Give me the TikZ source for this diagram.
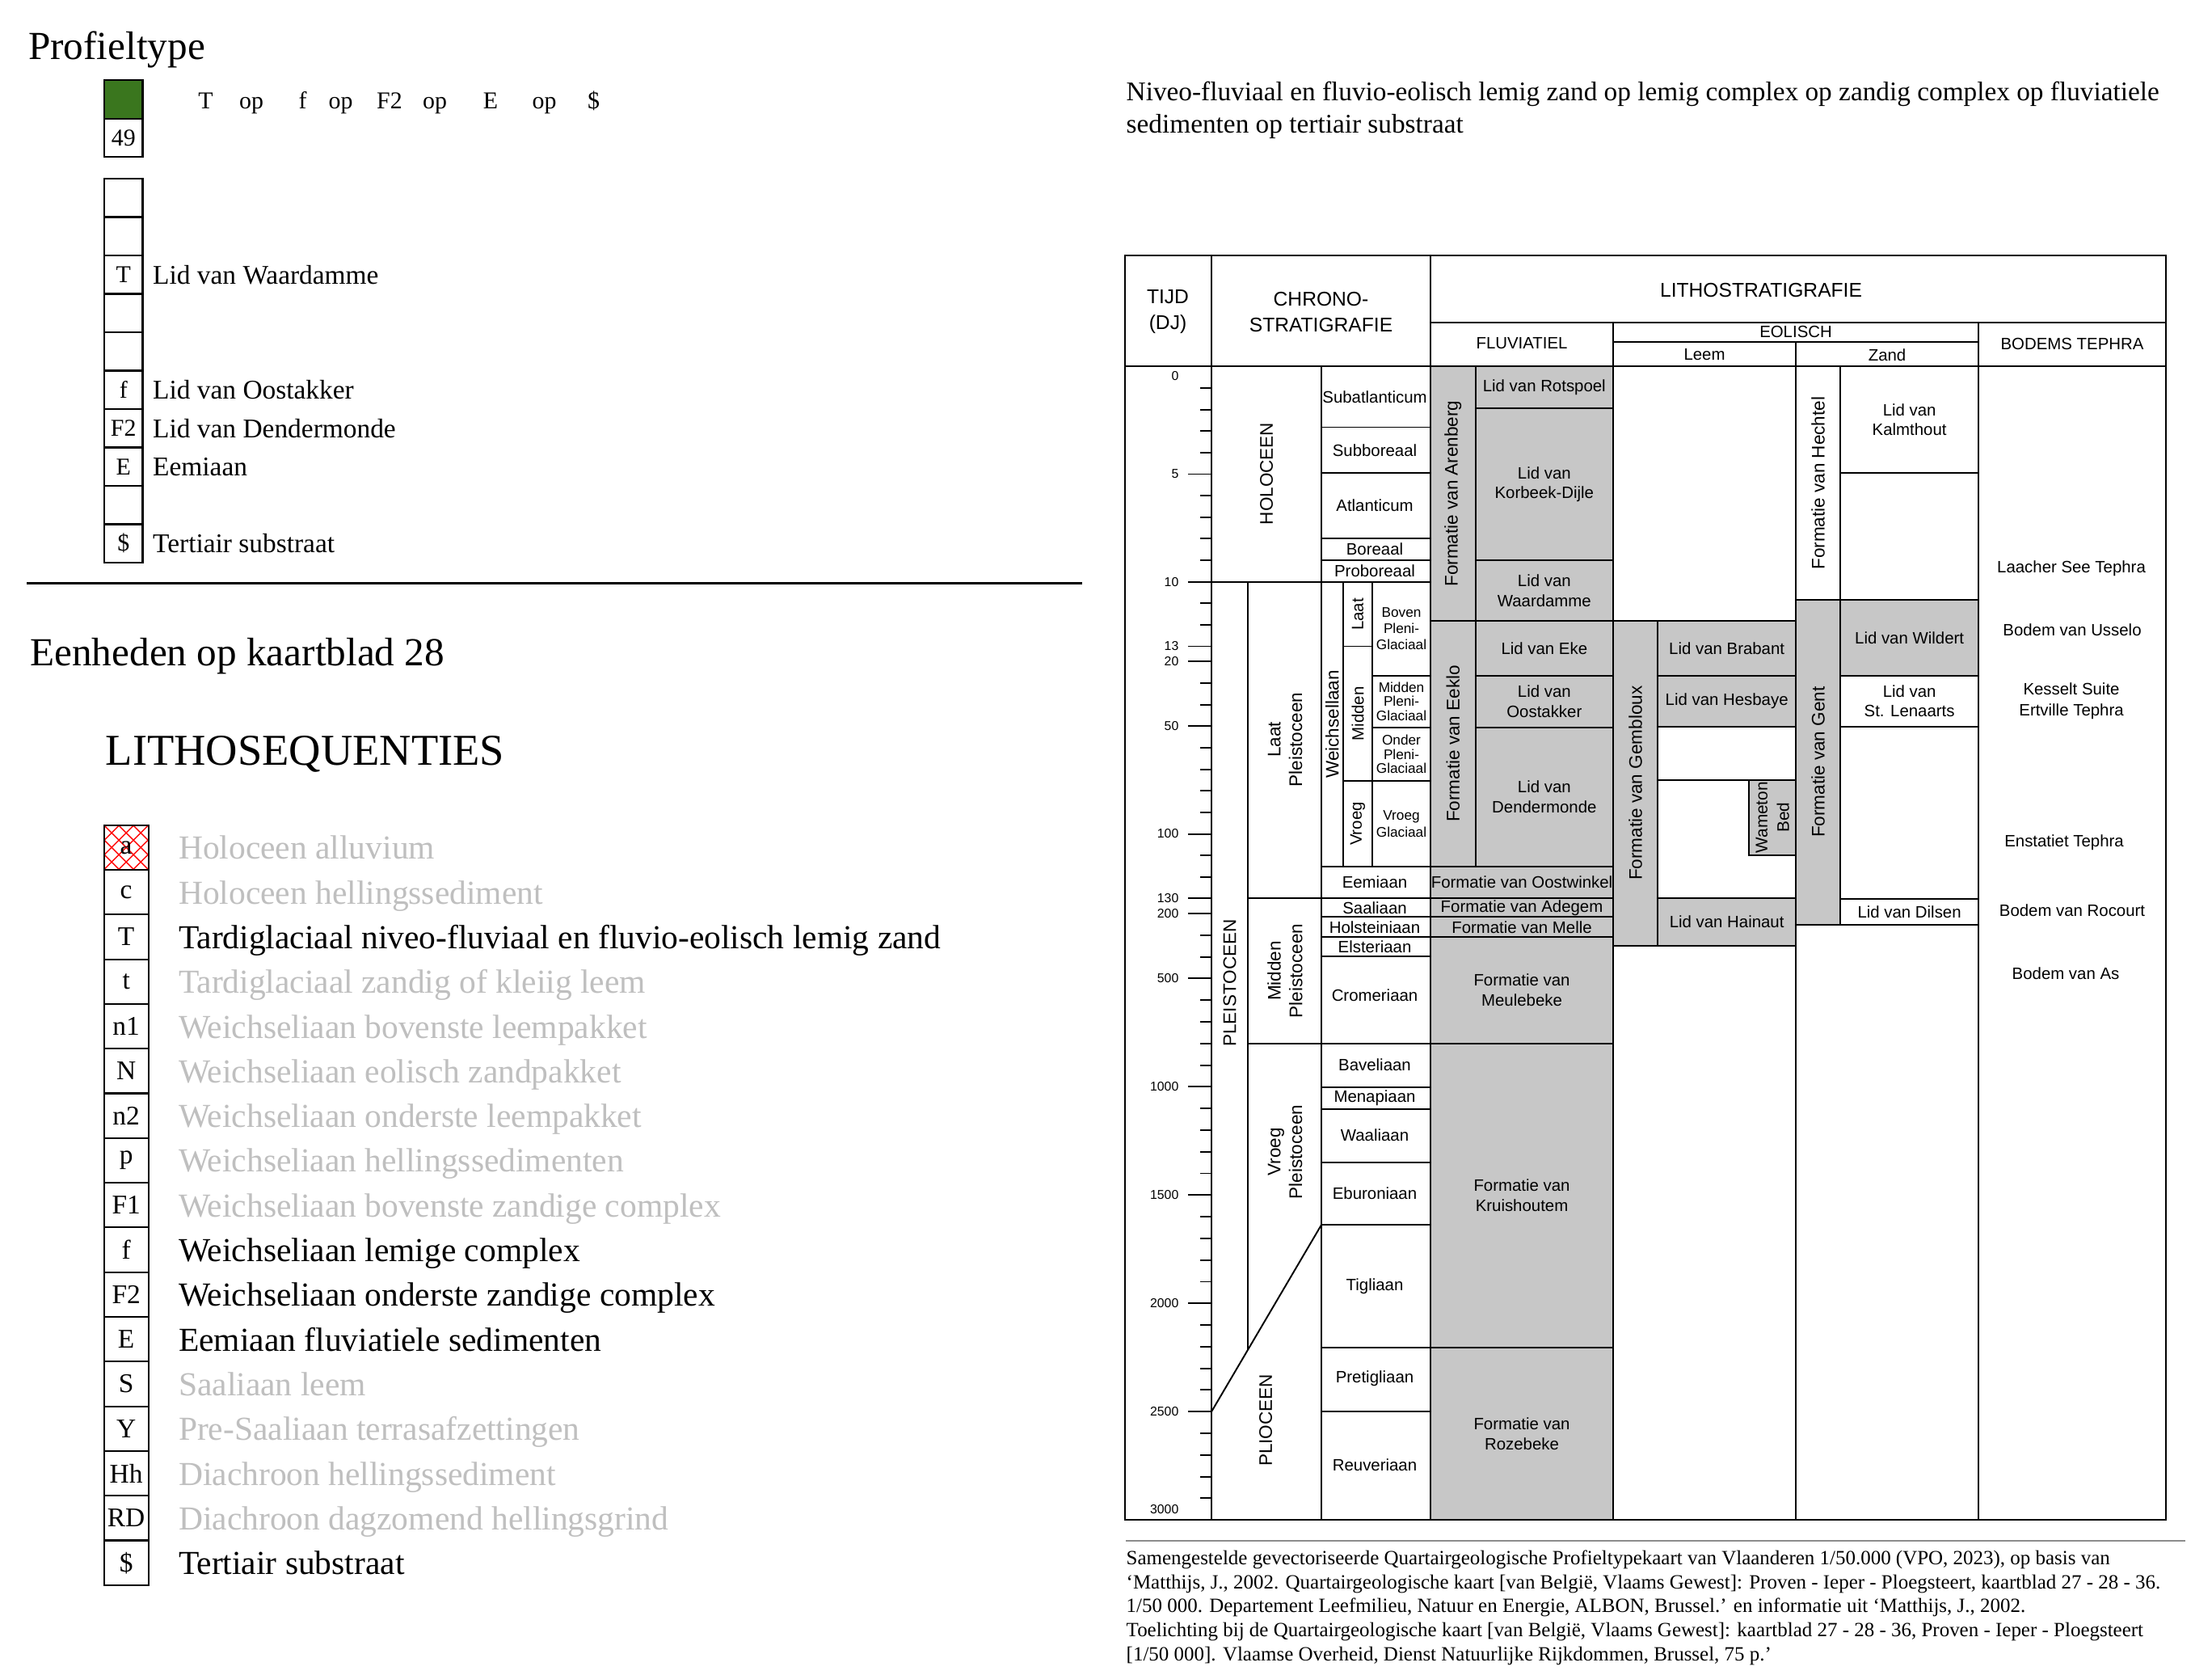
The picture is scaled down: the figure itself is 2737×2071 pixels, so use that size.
\documentclass[tikz,border=0pt]{standalone}
\usepackage{fontspec}
\setmainfont{Liberation Serif}
\setsansfont{Liberation Sans}
\usetikzlibrary{calc}
\definecolor{LegendGreen}{RGB}{58,118,30}
\definecolor{LithoGray}{RGB}{199,199,199}
\definecolor{FadedGray}{RGB}{191,191,191}
\definecolor{CaptionGray}{RGB}{140,140,140}
\tikzset{
    % left panel
    legbox/.style={draw=black, line width=0.6pt},
    legcode/.style={inner sep=0pt, font=\fontsize{9.5}{11}\selectfont},
    profcode/.style={inner sep=0pt, font=\fontsize{8.5}{10}\selectfont},
    leglabel/.style={anchor=west, inner sep=0pt, text height=0.68em, text depth=0.2em,
        font=\fontsize{11.8}{14}\selectfont},
    proflabel/.style={anchor=west, inner sep=0pt, text height=0.68em, text depth=0.2em,
        font=\fontsize{9.5}{11}\selectfont},
    seqtext/.style={inner sep=0pt, text height=0.68em, text depth=0.2em, font=\fontsize{8.5}{10}\selectfont},
    bigtitle/.style={anchor=west, inner sep=0pt, font=\fontsize{14}{17}\selectfont},
    % chart
    chartline/.style={line width=0.55pt},
    litbox/.style={draw, fill=LithoGray, line width=0.55pt},
    plainbox/.style={draw, fill=white, line width=0.55pt},
    chtext/.style={inner sep=0pt, align=center, font=\sffamily\fontsize{5.8}{7}\selectfont},
    glactext/.style={inner sep=0pt, align=center, font=\sffamily\fontsize{4.9}{5.8}\selectfont},
    rottext/.style={rotate=90, inner sep=0pt, align=center, font=\sffamily\fontsize{6.4}{7.6}\selectfont},
    headtext/.style={inner sep=0pt, align=center, font=\sffamily\fontsize{7}{9.1}\selectfont},
    subhead/.style={inner sep=0pt, font=\sffamily\fontsize{5.8}{7}\selectfont},
    ticklabel/.style={anchor=east, inner sep=0pt, font=\sffamily\fontsize{4.5}{5}\selectfont},
    tephra/.style={inner sep=0pt, align=center, font=\sffamily\fontsize{5.8}{7.3}\selectfont},
}

\begin{document}
\begin{tikzpicture}[x=0.01cm, y=-0.01cm]
    \useasboundingbox (0,0) rectangle (2737,2071);
    \fill[white] (0,0) rectangle (2737,2071);

    % profile type
    \node[bigtitle] (proftitle) at (34.4,61) {Profieltype};
    \draw[legbox, fill=LegendGreen] (129,99) rectangle (176.5,146.6);
    \draw[legbox] (129,146.6) rectangle node[profcode] (typenr) {49} (176.5,194);
    \foreach \t/\x [count=\n] in {T/254.5, op/311, f/374.5, op/421.5, F2/482, op/538, E/607, op/673.5, \$/734.5}
        \node[seqtext] (seq\n) at (\x,126) {\t};
    \foreach \i in {0,...,9}
        \draw[legbox] (129,{221+47.5*\i}) rectangle (176.5,{268.5+47.5*\i});
    \foreach \i/\c/\l in {2/T/Lid van Waardamme, 5/f/Lid van Oostakker, 6/F2/Lid van Dendermonde, 7/E/Eemiaan, 9/\$/Tertiair substraat} {
        \node[profcode] (pc\i) at (152.75,{244.75+47.5*\i}) {\c};
        \node[proflabel] (pl\i) at (188.5,{247.75+47.5*\i}) {\l};
    }
    \draw[line width=0.8pt] (33,721.5) -- (1339,721.5);

    % units on the map sheet
    \node[bigtitle] (units) at (36.7,812) {Eenheden op kaartblad 28};
    \node[bigtitle, font=\fontsize{15.5}{18}\selectfont] (lithoseq) at (130,932.5) {LITHOSEQUENTIES};
    \begin{scope}
        \clip (128.6,1020.7) rectangle (183.7,1076);
        \foreach \s in {-72,-54,...,72} {
            \draw[red, line width=0.4pt] ({128.6+\s},1020.7) -- ({128.6+\s+60},1080.7);
            \draw[red, line width=0.4pt] ({183.7-\s},1020.7) -- ({183.7-\s-60},1080.7);
        }
    \end{scope}
    \foreach \c/\l/\tc [count=\n from 0] in {a/Holoceen alluvium/FadedGray,
        c/Holoceen hellingssediment/FadedGray,
        T/Tardiglaciaal niveo-fluviaal en fluvio-eolisch lemig zand/black,
        t/Tardiglaciaal zandig of kleiig leem/FadedGray,
        n1/Weichseliaan bovenste leempakket/FadedGray,
        N/Weichseliaan eolisch zandpakket/FadedGray,
        n2/Weichseliaan onderste leempakket/FadedGray,
        p/Weichseliaan hellingssedimenten/FadedGray,
        F1/Weichseliaan bovenste zandige complex/FadedGray,
        f/Weichseliaan lemige complex/black,
        F2/Weichseliaan onderste zandige complex/black,
        E/Eemiaan fluviatiele sedimenten/black,
        S/Saaliaan leem/FadedGray,
        Y/Pre-Saaliaan terrasafzettingen/FadedGray,
        Hh/Diachroon hellingssediment/FadedGray,
        RD/Diachroon dagzomend hellingsgrind/FadedGray,
        \$/Tertiair substraat/black} {
        \draw[legbox] (128.6,{1020.7+55.3*\n}) rectangle (183.7,{1076+55.3*\n});
        \node[legcode] (lc\n) at (156.15,{1048.35+55.3*\n}) {\c};
        \node[leglabel, text=\tc] (ll\n) at (220.4,{1054.35+55.3*\n}) {\l};
    }

    % description
    \node[anchor=north west, inner sep=0pt, align=left, font=\fontsize{9.47}{11.4}\selectfont] (desc) at (1393,100)
        {Niveo-fluviaal en fluvio-eolisch lemig zand op lemig complex op zandig complex op fluviatiele\\sedimenten op tertiair substraat};

    % chart: fluviatiel
    \draw[litbox] (1770,453.3) rectangle node[rottext] (arenberg) {Formatie van Arenberg} (1825.6,767.9);
    \draw[litbox] (1825.6,453.3) rectangle node[chtext] (rotspoel) {Lid van Rotspoel} (1996,505);
    \draw[litbox] (1825.6,505) rectangle node[chtext] (korbeek) {Lid van\\Korbeek-Dijle} (1996,693.2);
    \draw[litbox] (1825.6,693.2) rectangle node[chtext] (waardamme) {Lid van\\Waardamme} (1996,767.9);
    \draw[litbox] (1770,767.9) rectangle node[rottext] (eeklo) {Formatie van Eeklo} (1825.6,1072);
    \draw[litbox] (1825.6,767.9) rectangle node[chtext] (eke) {Lid van Eke} (1996,835.6);
    \draw[litbox] (1825.6,835.6) rectangle node[chtext] (oostakker) {Lid van\\Oostakker} (1996,899.9);
    \draw[litbox] (1825.6,899.9) rectangle node[chtext] (dendermonde) {Lid van\\Dendermonde} (1996,1072);
    \draw[litbox] (1770,1072) rectangle node[chtext] (oostwinkel) {Formatie van Oostwinkel} (1996,1111.3);
    \draw[litbox] (1770,1111.3) rectangle node[chtext] (adegem) {Formatie van Adegem} (1996,1134.4);
    \draw[litbox] (1770,1134.4) rectangle node[chtext] (melle) {Formatie van Melle} (1996,1159);
    \draw[litbox] (1770,1159) rectangle node[chtext] (meulebeke) {Formatie van\\Meulebeke} (1996,1290.8);
    \draw[litbox] (1770,1290.8) rectangle node[chtext] (kruishoutem) {Formatie van\\Kruishoutem} (1996,1666.8);
    \draw[litbox] (1770,1666.8) rectangle node[chtext] (rozebeke) {Formatie van\\Rozebeke} (1996,1880);

    % chart: eolisch leem
    \draw[litbox] (1996,767.9) rectangle node[rottext] (gembloux) {Formatie van Gembloux} (2051.3,1169.5);
    \draw[litbox] (2051.3,767.9) rectangle node[chtext] (brabant) {Lid van Brabant} (2222,835.6);
    \draw[litbox] (2051.3,835.6) rectangle node[chtext] (hesbaye) {Lid van Hesbaye} (2222,898.7);
    \draw[chartline] (2051.3,964.7) -- (2222,964.7);
    \draw[litbox] (2164.3,964.7) rectangle node[rottext, font=\sffamily\fontsize{5.9}{7.6}\selectfont] (wameton) {Wameton\\Bed} (2222,1057.7);
    \draw[litbox] (2051.3,1111.3) rectangle node[chtext] (hainaut) {Lid van Hainaut} (2222,1169.5);

    % chart: eolisch zand
    \draw[plainbox] (2222,453.3) rectangle node[rottext] (hechtel) {Formatie van Hechtel} (2277.2,742);
    \draw[plainbox] (2277.2,453.3) rectangle node[chtext] (kalmthout) {Lid van\\Kalmthout} (2448,585.3);
    \draw[plainbox] (2277.2,585.3) rectangle (2448,742);
    \draw[litbox] (2222,742) rectangle node[rottext] (gent) {Formatie van Gent} (2277.2,1143.5);
    \draw[litbox] (2277.2,742) rectangle node[chtext] (wildert) {Lid van Wildert} (2448,835.6);
    \draw[plainbox] (2277.2,835.6) rectangle node[chtext] (lenaarts) {Lid van\\St. Lenaarts} (2448,898.7);
    \draw[plainbox] (2277.2,1112.3) rectangle node[chtext] (dilsen) {Lid van Dilsen} (2448,1143.5);

    % chart: bodems tephra
    \node[tephra] (laacher) at (2563,703.6) {Laacher See Tephra};
    \node[tephra] (usselo) at (2564,779.3) {Bodem van Usselo};
    \node[tephra] (kesselt) at (2563,867) {Kesselt Suite\\Ertville Tephra};
    \node[tephra] (enstatiet) at (2554,1041.7) {Enstatiet Tephra};
    \node[tephra] (rocourt) at (2564,1126.6) {Bodem van Rocourt};
    \node[tephra] (as) at (2556,1204) {Bodem van As};

    % chart: chronostratigrafie
    \draw[chartline] (1635,453.3) -- (1635,1880);
    \draw[chartline] (1499,719.6) -- (1770,719.6);
    \foreach \y in {528.5,585.3,665.7,693.2}
        \draw[chartline] (1635,\y) -- (1770,\y);
    \draw[chartline] (1544.4,719.6) -- (1544.4,1669.1);
    \draw[chartline] (1661.8,719.6) -- (1661.8,1072);
    \draw[chartline] (1698.4,719.6) -- (1698.4,1072);
    \draw[chartline] (1661.8,799.5) -- (1698.4,799.5);
    \draw[chartline] (1661.8,965.9) -- (1698.4,965.9);
    \foreach \y in {835.6,899.9,965.9}
        \draw[chartline] (1698.4,\y) -- (1770,\y);
    \draw[chartline] (1635,1072) -- (1770,1072);
    \draw[chartline] (1544.4,1111.3) -- (1770,1111.3);
    \foreach \y in {1134.4,1159,1183}
        \draw[chartline] (1635,\y) -- (1770,\y);
    \draw[chartline] (1544.4,1290.8) -- (1770,1290.8);
    \foreach \y in {1344.6,1371.8,1438.3,1515.1,1666.8,1746.2}
        \draw[chartline] (1635,\y) -- (1770,\y);
    \draw[chartline] (1499,1746.2) -- (1635,1515.1);

    \node[rottext] (holoceen) at (1567,586) {HOLOCEEN};
    \node[rottext] (pleistoceen) at (1521.7,1216) {PLEISTOCEEN};
    \node[rottext] (laatpl) at (1590,915) {Laat\\Pleistoceen};
    \node[rottext] (middenpl) at (1590,1201) {Midden\\Pleistoceen};
    \node[rottext] (vroegpl) at (1590,1425) {Vroeg\\Pleistoceen};
    \node[rottext] (plioceen) at (1566,1757) {PLIOCEEN};
    \node[rottext] (weichsel) at (1648.4,896) {Weichsellaan};
    \node[rottext, font=\sffamily\fontsize{5.8}{7}\selectfont] (wlaat) at (1680,760) {Laat};
    \node[rottext, font=\sffamily\fontsize{5.8}{7}\selectfont] (wmidden) at (1680,883) {Midden};
    \node[rottext, font=\sffamily\fontsize{5.8}{7}\selectfont] (wvroeg) at (1680,1019) {Vroeg};
    \node[glactext] (boven) at (1734,777.6) {Boven\\Pleni-\\Glaciaal};
    \node[glactext, font=\sffamily\fontsize{4.9}{4.9}\selectfont] (middengl) at (1734,867.7) {Midden\\Pleni-\\Glaciaal};
    \node[glactext, font=\sffamily\fontsize{4.9}{4.9}\selectfont] (onder) at (1734,932.9) {Onder\\Pleni-\\Glaciaal};
    \node[glactext] (vroeggl) at (1734,1019) {Vroeg\\Glaciaal};

    \foreach \st/\y [count=\n] in {Subatlanticum/491, Subboreaal/557, Atlanticum/625.5, Boreaal/679.5, Proboreaal/706.4,
        Eemiaan/1091.6, Saaliaan/1122.9, Holsteiniaan/1146.7, Elsteriaan/1171, Cromeriaan/1231,
        Baveliaan/1317.5, Menapiaan/1358.2, Waaliaan/1404, Eburoniaan/1476.5, Tigliaan/1591,
        Pretigliaan/1705.5, Reuveriaan/1812}
        \node[chtext] (stage\n) at (1701,\y) {\st};

    % chart: time axis
    \foreach \k in {1,...,13}
        \draw[chartline] (1485.4,{453.3+26.63*\k}) -- (1499,{453.3+26.63*\k});
    \foreach \j in {0,...,11}
        \draw[chartline] (1485.4,{818.4+26.63*\j}) -- (1499,{818.4+26.63*\j});
    \foreach \i in {0,...,27}
        \draw[chartline] (1485.4,{1130+26.79*\i}) -- (1499,{1130+26.79*\i});
    \foreach \yr/\y in {5/586.5, 10/719.6, 13/799.5, 20/818.4, 50/898.3, 100/1031.5, 130/1111.3,
        200/1130, 500/1210.4, 1000/1344.3, 1500/1478.2, 2000/1612.1, 2500/1746.2} {
        \draw[chartline] (1469.8,\y) -- (1499,\y);
        \node[ticklabel] (t\yr) at (1459,\y) {\yr};
    }
    \node[ticklabel] (t0) at (1459,465) {0};
    \node[ticklabel] (t3000) at (1459,1867) {3000};

    % chart: header and frame
    \draw[chartline] (1392,453.3) -- (2680,453.3);
    \draw[chartline] (1499,316) -- (1499,1880);
    \draw[chartline] (1770,316) -- (1770,1880);
    \draw[chartline] (1770,398.7) -- (2680,398.7);
    \draw[chartline] (1996,398.7) -- (1996,1880);
    \draw[chartline] (1996,423.4) -- (2448,423.4);
    \draw[chartline] (2222,423.4) -- (2222,1880);
    \draw[chartline] (2448,398.7) -- (2448,1880);
    \draw[line width=0.7pt] (1392,316) rectangle (2680,1880);
    \node[headtext] (tijd) at (1445,386) {TIJD\\(DJ)};
    \node[headtext] (chrono) at (1634.5,386) {CHRONO-\\STRATIGRAFIE};
    \node[headtext] (lithostrat) at (2179,359) {LITHOSTRATIGRAFIE};
    \node[subhead] (fluv) at (1883,425) {FLUVIATIEL};
    \node[subhead] (eolisch) at (2222,410.8) {EOLISCH};
    \node[subhead] (leem) at (2109,439) {Leem};
    \node[subhead] (zand) at (2335,439) {Zand};
    \node[subhead] (bodems) at (2564,425) {BODEMS TEPHRA};

    % source
    \draw[CaptionGray, line width=0.45pt] (1393,1906) -- (2704,1906);
    \node[anchor=north west, inner sep=0pt, align=left, font=\fontsize{7.1}{8.46}\selectfont] (source) at (1393,1917)
        {Samengestelde gevectoriseerde Quartairgeologische Profieltypekaart van Vlaanderen 1/50.000 (VPO, 2023), op basis van\\
        ‘Matthijs, J., 2002. Quartairgeologische kaart [van België, Vlaams Gewest]: Proven - Ieper - Ploegsteert, kaartblad 27 - 28 - 36.\\
        1/50 000. Departement Leefmilieu, Natuur en Energie, ALBON, Brussel.’ en informatie uit ‘Matthijs, J., 2002.\\
        Toelichting bij de Quartairgeologische kaart [van België, Vlaams Gewest]: kaartblad 27 - 28 - 36, Proven - Ieper - Ploegsteert\\
        {[1/50 000]. Vlaamse Overheid, Dienst Natuurlijke Rijkdommen, Brussel, 75 p.’}};
\end{tikzpicture}
\end{document}
